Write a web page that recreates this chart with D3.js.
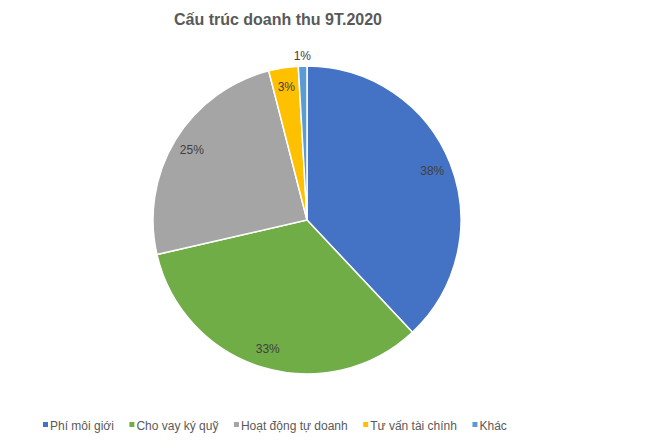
<!DOCTYPE html>
<html>
<head>
<meta charset="utf-8">
<script src="https://cdn.jsdelivr.net/npm/d3@7"></script>
<style>
  body { margin: 0; background: #fff; }
  svg { display: block; font-family: "Liberation Sans", Arial, sans-serif; }
</style>
</head>
<body>
<svg id="chart"></svg>
<script>
// data
const categories = ["Phí môi giới", "Cho vay ký quỹ", "Hoạt động tự doanh", "Tư vấn tài chính", "Khác"];
const shares = [38.0, 33.4, 24.6, 3.1, 0.9];
const colors = ["#4472C4", "#70AD47", "#A5A5A5", "#FFC000", "#5B9BD5"];

const width = 651, height = 444;
const cx = 307, cy = 220, r = 154;

const svg = d3.select("#chart")
    .attr("width", width)
    .attr("height", height);

svg.append("text")
    .attr("x", 278)
    .attr("y", 25)
    .attr("text-anchor", "middle")
    .attr("font-size", 16)
    .attr("font-weight", "bold")
    .attr("fill", "#595959")
    .text("Cấu trúc doanh thu 9T.2020");

const pie = d3.pie().sort(null).value(d => d)(shares);
const arc = d3.arc().innerRadius(0).outerRadius(r);
const total = d3.sum(shares);

const g = svg.append("g").attr("transform", `translate(${cx},${cy})`);

g.selectAll("path")
    .data(pie)
    .join("path")
    .attr("d", arc)
    .attr("fill", (d, i) => colors[i])
    .attr("stroke", "#fff")
    .attr("stroke-width", 1.5);

// labels: inside for big slices, outside for the tiny one
g.selectAll("text.lbl")
    .data(pie)
    .join("text")
    .attr("class", "lbl")
    .attr("transform", d => {
        const pct = d.value / total;
        const rr = pct < 0.02 ? r + 10 : r * 0.875;
        const a = (d.startAngle + d.endAngle) / 2;
        return `translate(${Math.sin(a) * rr},${-Math.cos(a) * rr})`;
    })
    .attr("text-anchor", "middle")
    .attr("dy", "0.35em")
    .attr("font-size", 12)
    .attr("fill", "#404040")
    .text(d => Math.round(d.value / total * 100) + "%");

// legend
const legend = svg.append("g").attr("transform", "translate(0,426)");
let x = 43;
categories.forEach((c, i) => {
    legend.append("rect")
        .attr("x", x)
        .attr("y", -4)
        .attr("width", 5)
        .attr("height", 5)
        .attr("fill", colors[i]);
    const t = legend.append("text")
        .attr("x", x + 7)
        .attr("y", 4)
        .attr("font-size", 12)
        .attr("fill", "#595959")
        .text(c);
    x += 7 + t.node().getComputedTextLength() + 15.5;
});
</script>
</body>
</html>
